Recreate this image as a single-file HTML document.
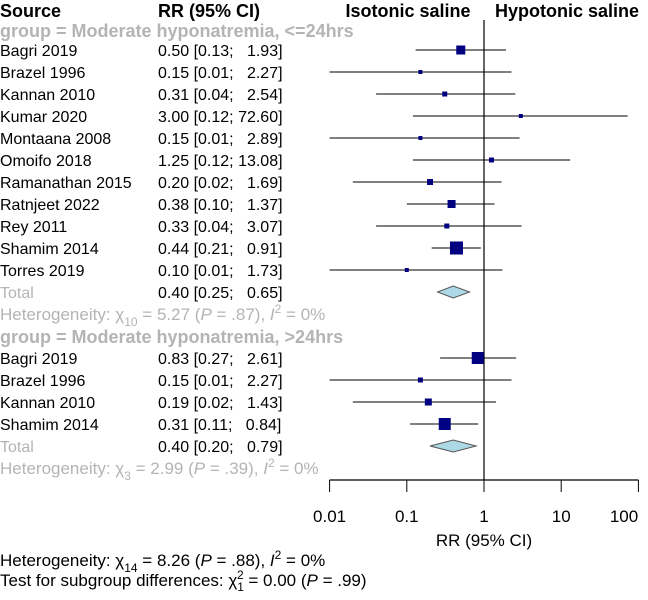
<!DOCTYPE html>
<html><head><meta charset="utf-8"><style>
body{margin:0;background:#fff}
svg text{font-family:"Liberation Sans",Arial,sans-serif;font-size:16px}
.g{fill:#b4b4b4}
.b{font-weight:bold;font-size:18px}
.h{font-size:17px}
</style></head><body>
<svg id="c" width="648" height="595"></svg>
<script>
const studies1=["Bagri 2019","Brazel 1996","Kannan 2010","Kumar 2020","Montaana 2008","Omoifo 2018","Ramanathan 2015","Ratnjeet 2022","Rey 2011","Shamim 2014","Torres 2019"];
const rr1=[0.50,0.15,0.31,3.00,0.15,1.25,0.20,0.38,0.33,0.44,0.10];
const lo1=[0.13,0.01,0.04,0.12,0.01,0.12,0.02,0.10,0.04,0.21,0.01];
const hi1=[1.93,2.27,2.54,72.60,2.89,13.08,1.69,1.37,3.07,0.91,1.73];
const sz1=[9,4,5,4,4,5,6,8,5,13,4];
const studies2=["Bagri 2019","Brazel 1996","Kannan 2010","Shamim 2014"];
const rr2=[0.83,0.15,0.19,0.31];
const lo2=[0.27,0.01,0.02,0.11];
const hi2=[2.61,2.27,1.43,0.84];
const sz2=[12,5,7,12];
const total=[[0.40,0.25,0.65],[0.40,0.20,0.79]];
const ticks=[0.01,0.1,1,10,100];
const tickLabels=["0.01","0.1","1","10","100"];
const NS="http://www.w3.org/2000/svg";
const svg=document.getElementById("c");
const X=v=>484+77.2*Math.log10(v);
function el(t,a,txt){const e=document.createElementNS(NS,t);for(const k in a)e.setAttribute(k,a[k]);if(txt!=null)e.innerHTML=txt;svg.appendChild(e);return e;}
const f=v=>v.toFixed(2);
function fmtCI(r,l,h){const hs=f(h);return f(r)+" ["+f(l)+"; "+(hs.length<5?"\u2007":"")+hs+"]";}
let t;
t=el("text",{x:0,y:17,class:"b"},"Source");


t=el("text",{x:158,y:17,class:"b"},"RR (95% CI)");


t=el("text",{x:408,y:17,class:"b","text-anchor":"middle"},"Isotonic saline");


t=el("text",{x:567,y:17,class:"b","text-anchor":"middle"},"Hypotonic saline");


let l=el("line",{x1:X(1),x2:X(1),y1:20,y2:480,stroke:"#000","stroke-width":1.2});


function header(y,txt){const e=el("text",{x:0,y:y+7,class:"b g"},txt);

}
function row(y,name,r,lo,hi,s){
 let a=el("text",{x:0,y:y+6},name);
 
 
 a=el("text",{x:158,y:y+6},fmtCI(r,lo,hi));
 
 
 a=el("line",{x1:X(lo),x2:X(hi),y1:y,y2:y,stroke:"#000","stroke-width":1});
 
 
 a=el("rect",{x:X(r)-s/2,y:y-s/2,width:s,height:s,fill:"#000080"});
 
 
}
function tot(y,v){
 let a=el("text",{x:0,y:y+6,class:"g"},"Total");
 
 
 a=el("text",{x:158,y:y+6},fmtCI(v[0],v[1],v[2]));
 
 
 a=el("polygon",{points:`${X(v[1])},${y} ${X(v[0])},${y-6} ${X(v[2])},${y} ${X(v[0])},${y+6}`,fill:"#add8e6",stroke:"#555","stroke-width":1});
 
 
}
function het(y,sub,chi,p){
 const a=el("text",{x:0,y:y+6,class:"g h"},`Heterogeneity: χ<tspan dy="6" font-size="12">${sub}</tspan><tspan dy="-6"> = ${chi} (</tspan><tspan font-style="italic">P</tspan> = ${p}), <tspan font-style="italic">I</tspan><tspan dy="-7" font-size="12">2</tspan><tspan dy="7"> = 0%</tspan>`);
 
 
}
header(30,"group = Moderate hyponatremia, <=24hrs");
studies1.forEach((n,i)=>row(50+22*i,n,rr1[i],lo1[i],hi1[i],sz1[i]));
tot(292,total[0]);
het(314,"10","5.27",".87");
header(336,"group = Moderate hyponatremia, >24hrs");
studies2.forEach((n,i)=>row(358+22*i,n,rr2[i],lo2[i],hi2[i],sz2[i]));
tot(446,total[1]);
het(468,"3","2.99",".39");
let ax=el("line",{x1:X(ticks[0]),x2:X(ticks[ticks.length-1]),y1:480,y2:480,stroke:"#000","stroke-width":1.2});


ticks.forEach((v,i)=>{
 let a=el("line",{x1:X(v),x2:X(v),y1:480,y2:492,stroke:"#000"});
 
 
 a=el("text",{x:Math.min(X(v),624),y:522,"text-anchor":"middle",class:"h"},tickLabels[i]);
 
 
});
t=el("text",{x:X(1),y:546,"text-anchor":"middle",class:"h"},"RR (95% CI)");


t=el("text",{x:0,y:566,class:"h"},`Heterogeneity: χ<tspan dy="6" font-size="12">14</tspan><tspan dy="-6"> = 8.26 (</tspan><tspan font-style="italic">P</tspan> = .88), <tspan font-style="italic">I</tspan><tspan dy="-7" font-size="12">2</tspan><tspan dy="7"> = 0%</tspan>`);


t=el("text",{x:0,y:586,class:"h"},`Test for subgroup differences: χ<tspan dy="5" font-size="12">1</tspan><tspan dx="-7" dy="-12" font-size="12">2</tspan><tspan dy="7"> = 0.00 (</tspan><tspan font-style="italic">P</tspan> = .99)`);


</script>
</body></html>
